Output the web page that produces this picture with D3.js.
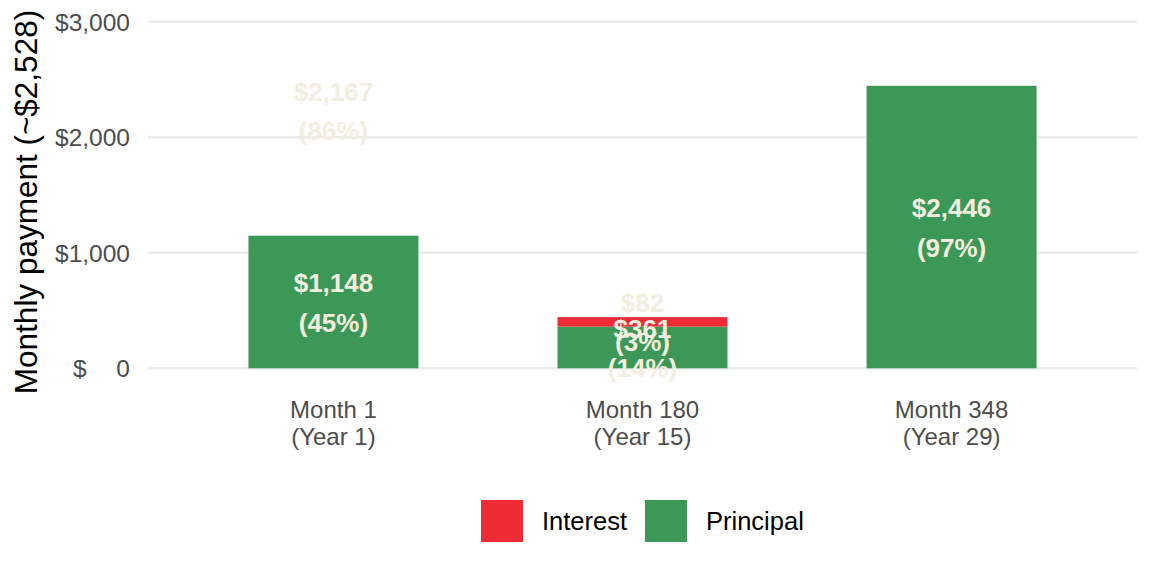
<!DOCTYPE html>
<html>
<head>
<meta charset="utf-8">
<script src="https://cdn.jsdelivr.net/npm/d3@7"></script>
<style>
body{margin:0;background:#fff;}
svg text{font-family:"Liberation Sans",Arial,sans-serif;}
</style>
</head>
<body>
<div id="chart"></div>
<script>
// data
var months=["Month 1","Month 180","Month 348"];
var years=["(Year 1)","(Year 15)","(Year 29)"];
var principal=[1148,361,2446];
var principalPct=[45,14,97];
var interest=[2167,82,null];
var interestPct=[86,3,null];
var yTicks=[0,1000,2000,3000];
var series=["Interest","Principal"];
var colors={"Interest":"#EF2B36","Principal":"#3C9856"};

var W=1152,H=576;
var pLeft=148,pRight=1137,pTop=21.8,pBottom=368.3;
var labelCol="#F3EEDF";
var axisCol="#4D4D4D";

var svg=d3.select("#chart").append("svg").attr("width",W).attr("height",H);

// ggplot-like discrete axis: 0.6 step expansion each side, bar width 0.55 of step
var step=(pRight-pLeft)/3.2;
var x=d3.scalePoint().domain(months).range([pLeft+0.6*step,pRight-0.6*step]);
var barW=0.55*step;

var y=d3.scaleLinear().domain([0,3000]).range([pBottom,pTop]);

// gridlines
var g_grid=svg.append("g");
g_grid.selectAll("line").data(yTicks).enter().append("line")
	.attr("x1",pLeft).attr("x2",pRight)
	.attr("y1",function(d){return y(d);}).attr("y2",function(d){return y(d);})
	.attr("stroke","#EBEBEB").attr("stroke-width",2.4);

// y axis labels
var yAxis=d3.axisLeft(y).tickValues(yTicks).tickSize(0).tickPadding(0)
	.tickFormat(function(d){return "$"+d3.format(",")(d);});
var g_y=svg.append("g").attr("transform","translate(130,0)").call(yAxis);
g_y.select(".domain").remove();
g_y.selectAll("text").attr("font-size",24.5).attr("fill",axisCol)
	.attr("font-family","Liberation Sans, Arial, sans-serif")
	.attr("dy","0.35em");
// the zero label is padded: "$" sits apart from the 0
g_y.selectAll(".tick").filter(function(d){return d==0;}).select("text")
	.text(null)
	.call(function(t){
		t.append("tspan").text("$");
		t.append("tspan").attr("dx",29.8).text("0");
	});

// stacked values
var rows=months.map(function(m,i){
	var out=[];
	var p0=0,p1=principal[i];
	out.push({m:m,s:"Principal",y0:p0,y1:p1,v:principal[i],pct:principalPct[i]});
	if(interest[i]!=null){
		out.push({m:m,s:"Interest",y0:p1,y1:p1+interest[i],v:interest[i],pct:interestPct[i]});
	}
	return out;
});
var segs=[].concat.apply([],rows);

// bars out of the y limits are dropped (labels stay)
var g_bars=svg.append("g");
g_bars.selectAll("rect").data(segs.filter(function(d){return d.y1<=3000;})).enter().append("rect")
	.attr("x",function(d){return x(d.m)-barW/2;})
	.attr("width",barW)
	.attr("y",function(d){return y(d.y1);})
	.attr("height",function(d){return y(d.y0)-y(d.y1);})
	.attr("fill",function(d){return colors[d.s];});

// labels
var g_lab=svg.append("g");
segs.slice().reverse().forEach(function(d){
	var cy=y((d.y0+d.y1)/2)+1;
	var t=g_lab.append("text")
		.attr("x",x(d.m)).attr("y",cy)
		.attr("text-anchor","middle")
		.attr("font-size",26).attr("font-weight","bold").attr("fill",labelCol);
	t.append("tspan").attr("x",x(d.m)).attr("dy","-0.42em").text("$"+d3.format(",")(d.v));
	t.append("tspan").attr("x",x(d.m)).attr("dy","1.52em").text("("+d.pct+"%)");
});

// x axis labels
var g_x=svg.append("g");
months.forEach(function(m,i){
	var t=g_x.append("text").attr("x",x(m)).attr("y",418)
		.attr("text-anchor","middle").attr("font-size",24).attr("fill",axisCol);
	t.append("tspan").attr("x",x(m)).text(m);
	t.append("tspan").attr("x",x(m)).attr("dy",27).text(years[i]);
});

// y title
svg.append("text")
	.attr("transform","translate(37,202) rotate(-90)")
	.attr("text-anchor","middle").attr("font-size",31.5).attr("fill","#000")
	.text("Monthly payment (~$2,528)");

// legend
var g_leg=svg.append("g");
var legX=[481,645];
series.forEach(function(s,i){
	g_leg.append("rect").attr("x",legX[i]).attr("y",500).attr("width",42).attr("height",42)
		.attr("fill",colors[s]);
	g_leg.append("text").attr("x",legX[i]+61).attr("y",530)
		.attr("font-size",25.5).attr("fill","#000").text(s);
});
</script>
</body>
</html>
